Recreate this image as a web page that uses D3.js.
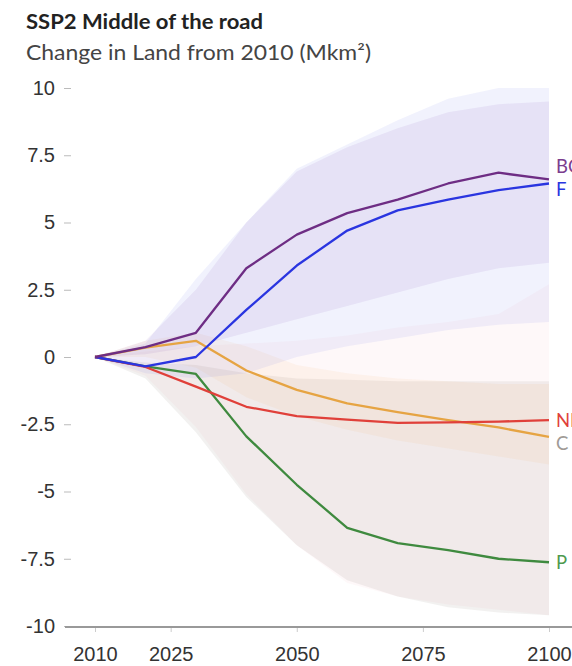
<!DOCTYPE html>
<html>
<head>
<meta charset="utf-8">
<script src="https://cdn.jsdelivr.net/npm/d3@7"></script>
<style>
  html, body { margin: 0; padding: 0; background: #fff; }
  svg { display: block; font-family: "Source Sans Pro", Lato, "Noto Sans", sans-serif; }
</style>
</head>
<body>
<svg id="chart" width="572" height="666"></svg>
<script>
// Land-use change under SSP2, relative to 2010 (million km²)
const years = [2010, 2020, 2030, 2040, 2050, 2060, 2070, 2080, 2090, 2100];

const seriesNames = ["BC", "F", "NI", "C", "P"];
const seriesColors = ["#6e2d84", "#2a35e0", "#e0403a", "#e6a443", "#3f8a3f"];
const labelColors  = ["#7b3d8e", "#2a35e0", "#e0403a", "#a09a96", "#4f9a4f"];
const bandColors   = ["#7b3fb0", "#4a5ae8", "#f07a8a", "#f0b060", "#807a70"];

// median path of each land type
const medianBC = [0, 0.37, 0.9, 3.3, 4.55, 5.35, 5.85, 6.45, 6.85, 6.6];
const medianF  = [0, -0.35, 0.0, 1.75, 3.4, 4.7, 5.45, 5.85, 6.2, 6.45];
const medianNI = [0, -0.37, -1.1, -1.85, -2.2, -2.33, -2.45, -2.43, -2.4, -2.35];
const medianC  = [0, 0.35, 0.6, -0.5, -1.22, -1.72, -2.05, -2.35, -2.62, -2.97];
const medianP  = [0, -0.35, -0.63, -2.95, -4.75, -6.35, -6.92, -7.18, -7.5, -7.63];

// model range (low / high) of each land type
const lowBC  = [0, 0.1, 0.4, 0.9, 1.4, 1.9, 2.4, 2.9, 3.3, 3.5];
const highBC = [0, 0.6, 2.5, 5.0, 6.9, 7.8, 8.5, 9.1, 9.4, 9.5];
const lowF   = [0, -0.6, -0.8, -0.6, 0.0, 0.4, 0.7, 1.0, 1.2, 1.3];
const highF  = [0, 0.5, 2.9, 5.0, 7.0, 7.9, 8.8, 9.6, 10.0, 10.0];
const lowNI  = [0, -0.7, -2.6, -5.1, -7.0, -8.4, -8.9, -9.2, -9.4, -9.6];
const highNI = [0, 0.2, 0.4, 0.5, 0.6, 0.8, 1.1, 1.3, 1.6, 2.7];
const lowC   = [0, 0.0, -0.4, -1.5, -2.2, -2.7, -3.1, -3.4, -3.7, -4.0];
const highC  = [0, 0.6, 0.9, 0.4, -0.3, -0.6, -0.8, -0.9, -1.0, -1.0];
const lowP   = [0, -0.8, -2.8, -5.2, -7.0, -8.3, -8.9, -9.3, -9.5, -9.6];
const highP  = [0, -0.2, -0.3, -0.6, -0.8, -0.85, -0.9, -0.9, -0.9, -0.9];

const xTicks = [2010, 2025, 2050, 2075, 2100];
const yTicks = [-10, -7.5, -5, -2.5, 0, 2.5, 5, 7.5, 10];

const medians = [medianBC, medianF, medianNI, medianC, medianP];
const lows  = [lowBC, lowF, lowNI, lowC, lowP];
const highs = [highBC, highF, highNI, highC, highP];

const svg = d3.select("#chart");

const x = d3.scaleLinear().domain([2010, 2100]).range([95, 549]);
const y = d3.scaleLinear().domain([-10, 10]).range([626, 88]);

// titles
svg.append("text").attr("x", 26).attr("y", 29)
  .attr("font-size", 21).attr("font-weight", 700).attr("fill", "#222")
  .attr("textLength", 237).attr("lengthAdjust", "spacingAndGlyphs")
  .text("SSP2 Middle of the road");
svg.append("text").attr("x", 26).attr("y", 60)
  .attr("font-size", 21).attr("fill", "#444")
  .attr("textLength", 345).attr("lengthAdjust", "spacingAndGlyphs")
  .text("Change in Land from 2010 (Mkm²)");

// uncertainty bands
const area = d3.area()
  .x((d, i) => x(years[i]))
  .y0(d => y(d[0]))
  .y1(d => y(d[1]));

const bandOrder = [2, 4, 3, 1, 0];
const bandOpacity = [0.09, 0.08, 0.055, 0.09, 0.1];
bandOrder.forEach(k => {
  const pts = years.map((yr, i) => [lows[k][i], highs[k][i]]);
  svg.append("path")
    .attr("d", area(pts))
    .attr("fill", bandColors[k])
    .attr("fill-opacity", bandOpacity[k]);
});

// axes
const yAxis = d3.axisLeft(y).tickValues(yTicks).tickSize(7).tickPadding(9)
  .tickFormat(d => String(d));
const gy = svg.append("g").attr("transform", "translate(71,0)").call(yAxis);
gy.select(".domain").remove();
gy.selectAll(".tick line").attr("stroke", "#bbb");
gy.selectAll(".tick text").attr("font-size", 20).attr("fill", "#333")
  .attr("font-family", "inherit");

svg.append("line").attr("x1", 65).attr("x2", 572)
  .attr("y1", 627).attr("y2", 627)
  .attr("stroke", "#999").attr("stroke-width", 2);

const xAxis = d3.axisBottom(x).tickValues(xTicks).tickSize(4).tickPadding(15)
  .tickFormat(d3.format("d"));
const gx = svg.append("g").attr("transform", "translate(0,628)").call(xAxis);
gx.select(".domain").remove();
gx.selectAll(".tick line").attr("stroke", "#ccc");
gx.selectAll(".tick text").attr("font-size", 20).attr("fill", "#333")
  .attr("font-family", "inherit");

// median lines
const line = d3.line().x((d, i) => x(years[i])).y(d => y(d));
const lineOrder = [3, 4, 2, 1, 0];
lineOrder.forEach(k => {
  svg.append("path")
    .attr("d", line(medians[k]))
    .attr("fill", "none")
    .attr("stroke", seriesColors[k])
    .attr("stroke-width", 2.3)
    .attr("stroke-linejoin", "round");
});

// end labels, nudged apart where two series finish close together
const labelNudge = { BC: -13, F: 6, NI: 0, C: 6, P: 0 };
seriesNames.forEach((name, k) => {
  const v = medians[k][medians[k].length - 1];
  svg.append("text")
    .attr("x", x(2100) + 7).attr("y", y(v) + labelNudge[name]).attr("dy", "0.36em")
    .attr("font-size", 18.5).attr("fill", labelColors[k])
    .text(name);
});
</script>
</body>
</html>
